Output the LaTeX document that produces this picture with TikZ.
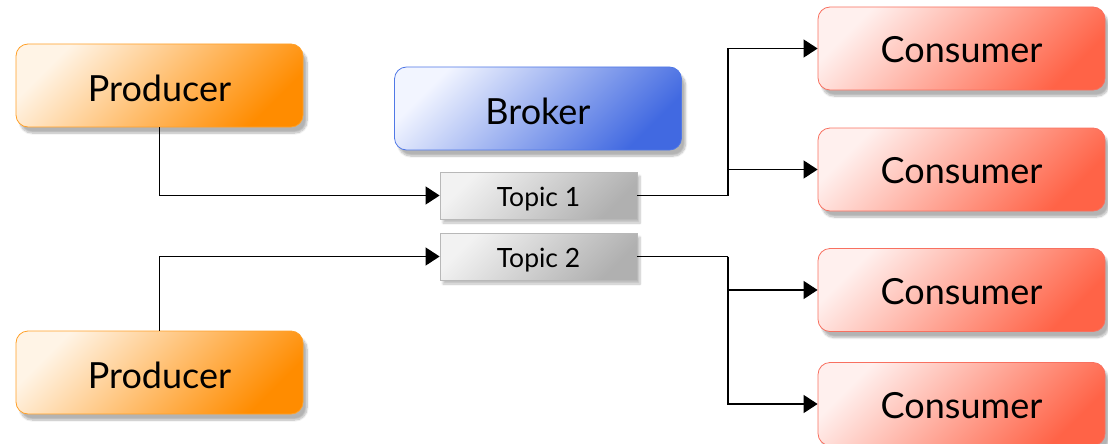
\documentclass[tikz,border=0pt]{standalone}
\usepackage{fontspec}
\setmainfont{Lato}
\usetikzlibrary{arrows.meta,shadows.blur,positioning}
\definecolor{prodL}{HTML}{FFF4E6}
\definecolor{prodD}{HTML}{FF8C00}
\definecolor{prodB}{HTML}{FFA028}
\definecolor{brokL}{HTML}{F2F5FF}
\definecolor{brokD}{HTML}{4169E1}
\definecolor{brokB}{HTML}{5078E6}
\definecolor{consL}{HTML}{FFF0EE}
\definecolor{consD}{HTML}{FF6347}
\definecolor{consB}{HTML}{F87060}
\definecolor{topL}{HTML}{F2F2F2}
\definecolor{topD}{HTML}{B0B0B0}
\definecolor{topB}{HTML}{B8B8B8}
\tikzset{
  box/.style={rounded corners=12pt, minimum width=287pt, minimum height=83pt,
    inner sep=0pt, shading angle=45, line width=0.8pt,
    text height=31pt, text depth=0pt,
    blur shadow={shadow xshift=4pt, shadow yshift=-6pt, shadow blur steps=8, shadow opacity=30},
    font=\fontsize{36}{42}\selectfont},
  prodbox/.style={box, draw=prodB, top color=prodL, bottom color=prodD, shading angle=45},
  brokbox/.style={box, draw=brokB, top color=brokL, bottom color=brokD, shading angle=45},
  consbox/.style={box, draw=consB, top color=consL, bottom color=consD, shading angle=45,
    text height=28pt},
  topicbox/.style={rectangle, minimum width=197pt, minimum height=47pt, inner sep=0pt,
    line width=0.8pt, draw=topB, top color=topL, bottom color=topD, shading angle=45,
    text height=21pt, text depth=0pt,
    blur shadow={shadow xshift=3pt, shadow yshift=-4pt, shadow blur steps=6, shadow opacity=25},
    font=\fontsize{26.5}{30}\selectfont},
  conn/.style={line width=1.2pt, black, -{Triangle[length=14pt,width=18pt]}},
  link/.style={line width=1.2pt, black},
}
\begin{document}
\begin{tikzpicture}[x=1pt,y=-1pt]
\useasboundingbox (0,0) rectangle (1108,444);
\node[prodbox] (p1) at (159.5,85.5) {Producer};
\node[prodbox] (p2) at (159.5,372.5) {Producer};
\node[brokbox] (b) at (538,108.5) {Broker};
\node[topicbox] (t1) at (538.5,195.5) {Topic 1};
\node[topicbox] (t2) at (538.5,256.5) {Topic 2};
\node[consbox] (c1) at (961.5,48.5) {Consumer};
\node[consbox] (c2) at (961.5,169.5) {Consumer};
\node[consbox] (c3) at (961.5,290) {Consumer};
\node[consbox] (c4) at (961.5,404) {Consumer};
\coordinate (j1) at (728,195.5);
\coordinate (j2) at (728,256.5);
\draw[conn] (p1.south) |- (t1.west);
\draw[conn] (p2.north) |- (t2.west);
\draw[link] (t1.east) -- (j1);
\draw[conn] (j1) |- (c1.west);
\draw[conn] (j1) |- (c2.west);
\draw[link] (t2.east) -- (j2);
\draw[conn] (j2) |- (c3.west);
\draw[conn] (j2) |- (c4.west);
\end{tikzpicture}
\end{document}
